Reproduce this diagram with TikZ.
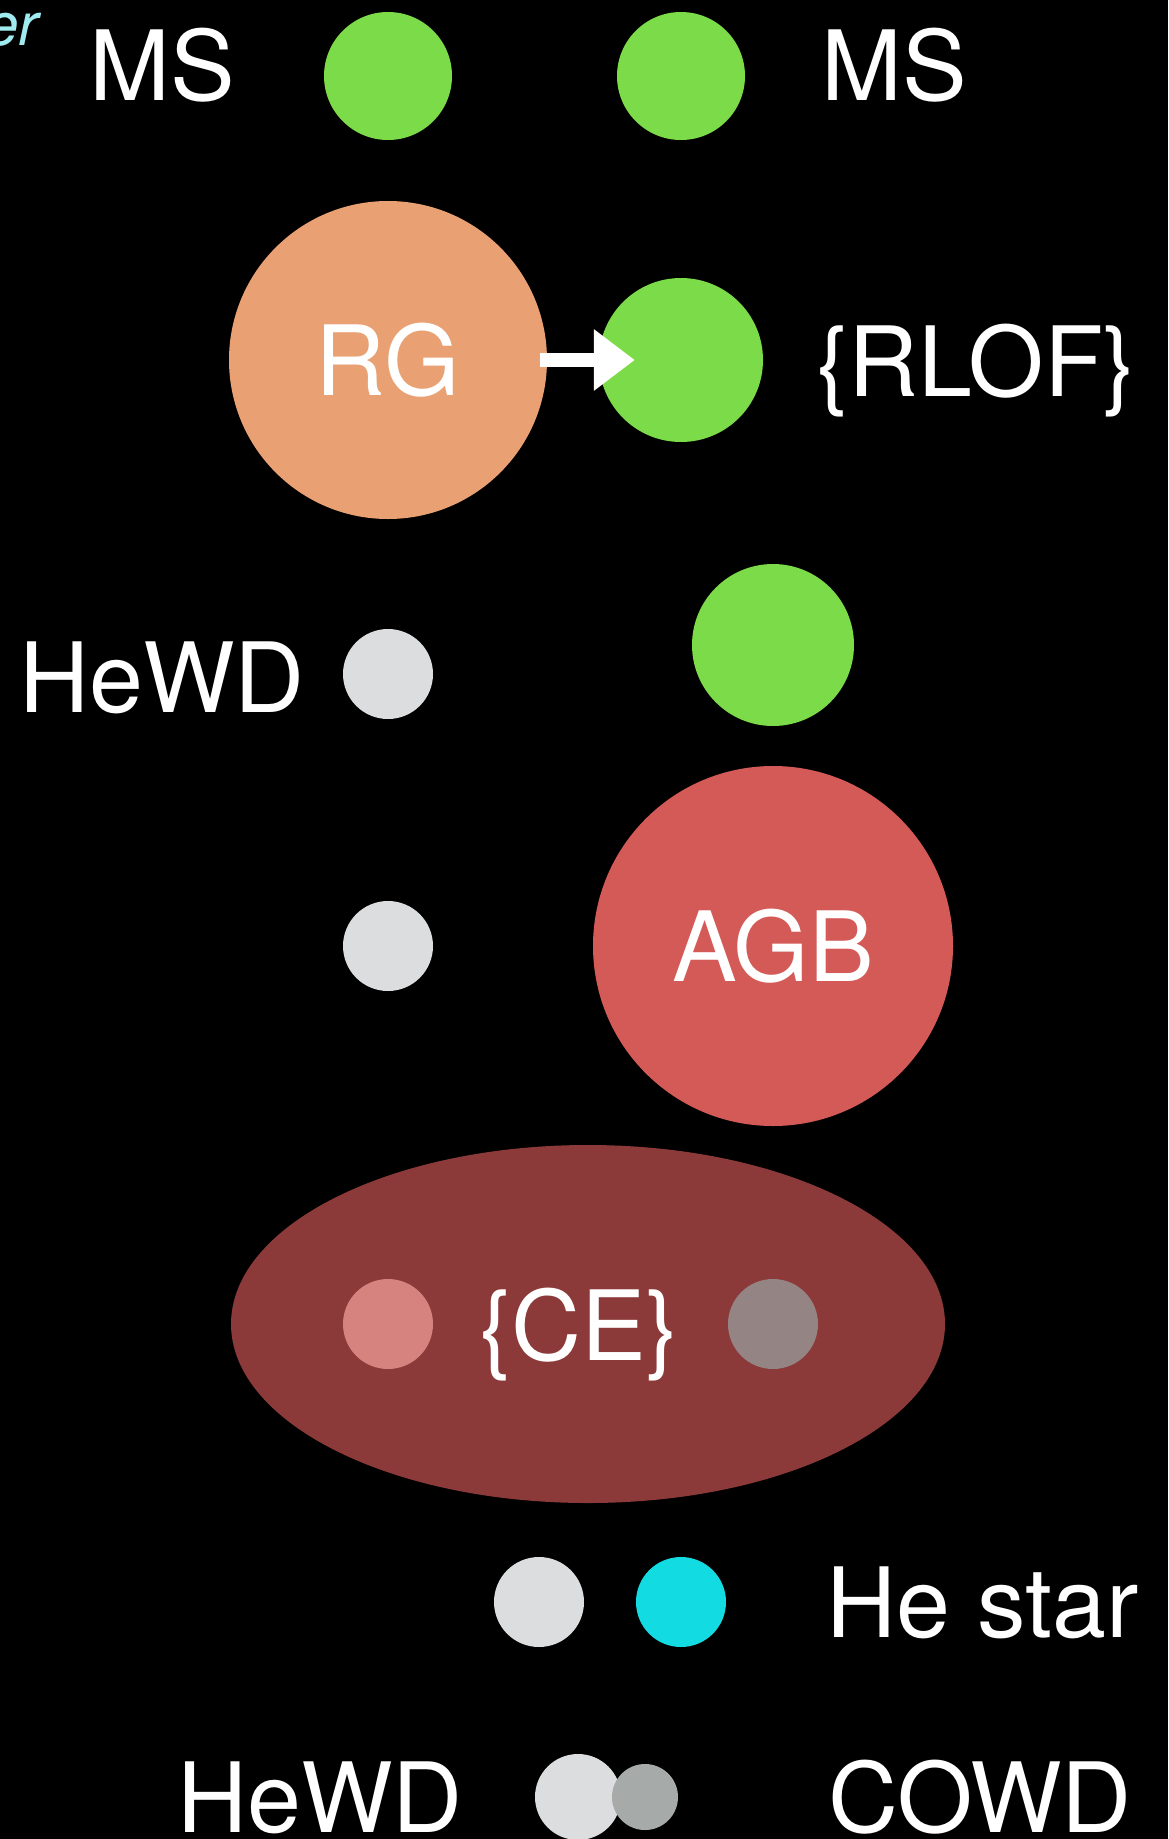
\documentclass[tikz,border=0pt]{standalone}
\usepackage{fontspec}
\setmainfont{TeX Gyre Heros}
\usetikzlibrary{shapes.geometric, arrows.meta, positioning}
\definecolor{msgreen}{RGB}{124, 219, 72}
\definecolor{rgpeach}{RGB}{233, 160, 114}
\definecolor{agbred}{RGB}{212, 90, 87}
\definecolor{cebrown}{RGB}{139, 58, 57}
\definecolor{cepink}{RGB}{214, 130, 126}
\definecolor{cegrey}{RGB}{148, 132, 132}
\definecolor{wdwhite}{RGB}{220, 221, 223}
\definecolor{wdgrey}{RGB}{166, 170, 169}
\definecolor{hecyan}{RGB}{18, 220, 226}
\definecolor{notecyan}{RGB}{160, 235, 240}

\begin{document}
\begin{tikzpicture}[x=1pt, y=-1pt, >=Latex,
    body/.style={circle, inner sep=0pt, minimum size=#1},
    lbl/.style={text=white, font=\fontsize{97}{114}\selectfont, anchor=base}]
    \fill[black] (0,0) rectangle (1168,1839);
    \useasboundingbox (0,0) rectangle (1168,1839);

    \node[text=notecyan, font=\fontsize{60}{70}\selectfont\itshape, anchor=base east] (note) at (42,45) {er};

    % main sequence pair
    \node[body=128pt, fill=msgreen] (msA) at (388,76) {};
    \node[body=128pt, fill=msgreen] (msB) at (681,76) {};
    \node[lbl] (msAlbl) at (162,100) {MS};
    \node[lbl] (msBlbl) at (894,100) {MS};

    % red giant and mass transfer
    \node[body=318pt, fill=rgpeach, text=white, font=\fontsize{97}{114}\selectfont] (RG) at (388,360) {RG};
    \node[body=164pt, fill=msgreen] (rlof) at (681,360) {};
    \node[lbl] (rloflbl) at (976,396) {\{RLOF\}};
    \draw[white, line width=14pt, -{Triangle[length=41pt, width=59pt]}] ([xshift=-7pt]RG.east) -- ([xshift=36pt]rlof.west);

    % helium white dwarf
    \node[body=90pt, fill=wdwhite] (hewdA) at (388,674) {};
    \node[lbl] (hewdAlbl) at (162,712) {HeWD};
    \node[body=162pt, fill=msgreen] (msC) at (773,645) {};

    % AGB
    \node[body=90pt, fill=wdwhite] (hewdB) at (388,946) {};
    \node[body=360pt, fill=agbred, text=white, font=\fontsize{97}{114}\selectfont] (AGB) at (773,946) {AGB};

    % common envelope
    \node[ellipse, fill=cebrown, inner sep=0pt, minimum width=714pt, minimum height=358pt] (CE) at (588,1324) {};
    \node[body=90pt, fill=cepink] (ceA) at (388,1324) {};
    \node[body=90pt, fill=cegrey] (ceB) at (773,1324) {};
    \node[lbl] (celbl) at (579,1360) {\{CE\}};

    % helium star
    \node[body=90pt, fill=wdwhite] (hewdC) at (539,1602) {};
    \node[body=90pt, fill=hecyan] (hestar) at (681,1602) {};
    \node[lbl] (hestarlbl) at (983,1637) {He star};

    % double white dwarf
    \node[body=86pt, fill=wdwhite] (hewdD) at (578,1797) {};
    \node[body=66pt, fill=wdgrey] (cowd) at (645,1797) {};
    \node[lbl] (hewdDlbl) at (320,1832) {HeWD};
    \node[lbl] (cowdlbl) at (980,1832) {COWD};
\end{tikzpicture}
\end{document}
